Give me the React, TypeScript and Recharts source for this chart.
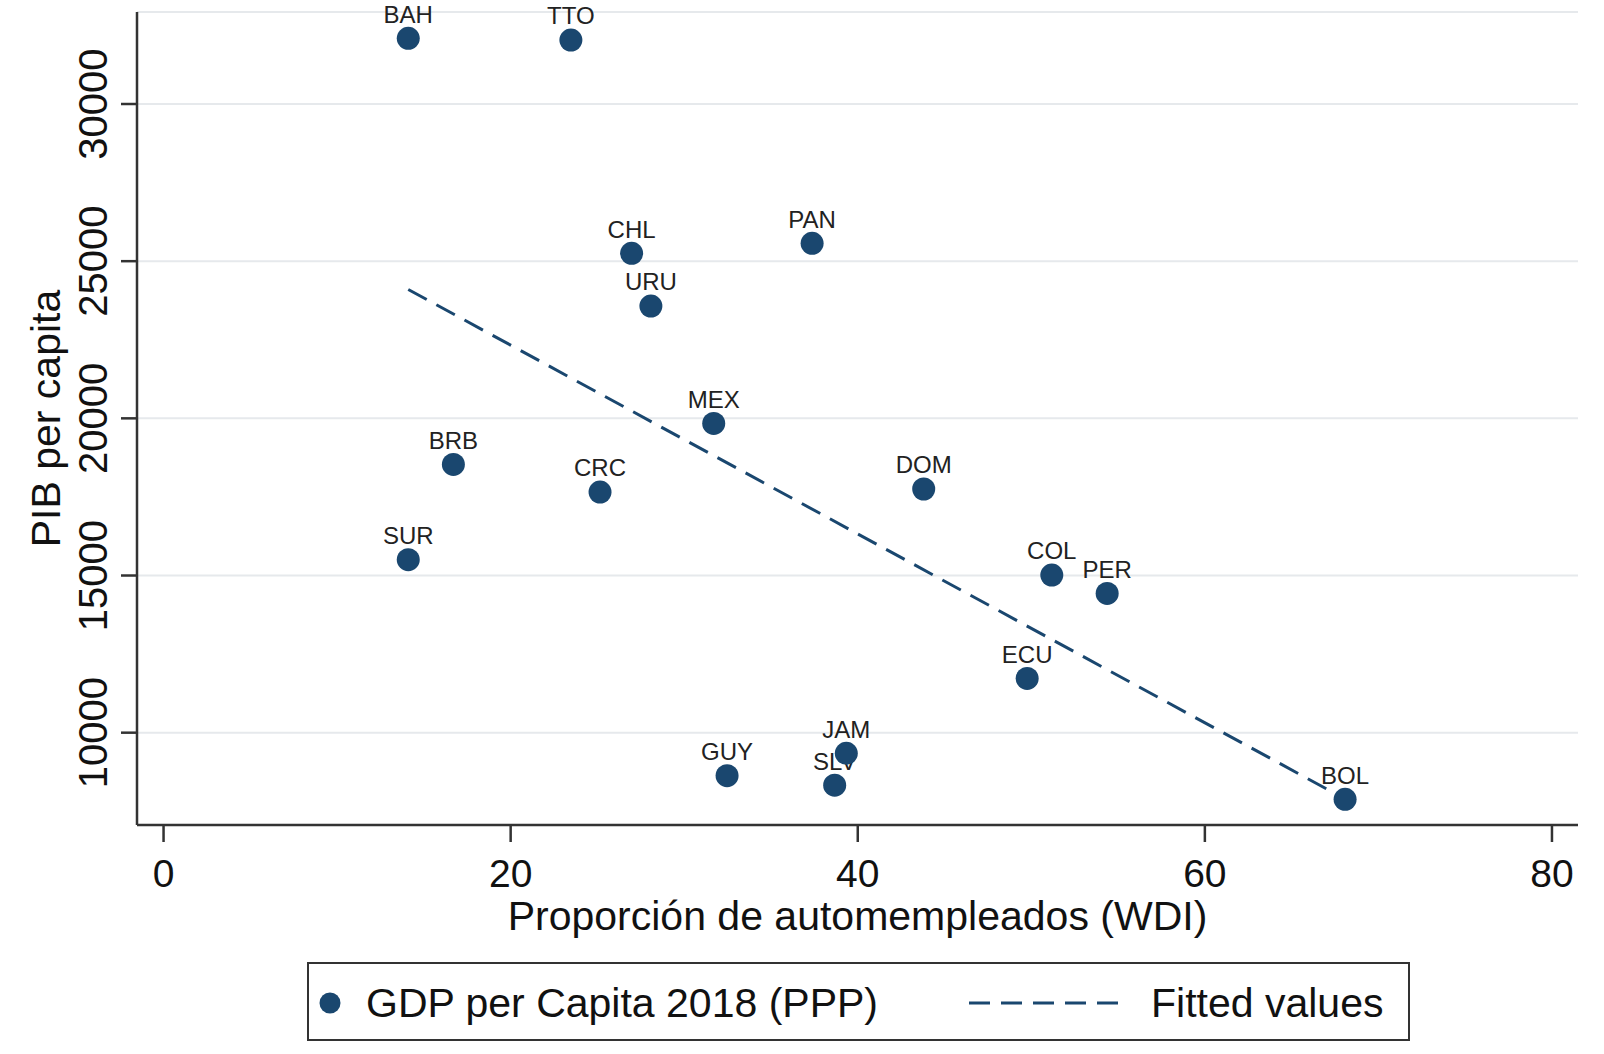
import React from 'react';
import { ScatterChart, Scatter, XAxis, YAxis, CartesianGrid, Legend } from 'recharts';

const countries = ['BAH', 'TTO', 'CHL', 'PAN', 'URU', 'MEX', 'BRB', 'CRC', 'DOM', 'SUR', 'COL', 'PER', 'ECU', 'JAM', 'GUY', 'SLV', 'BOL'];
const selfEmployed = [14.1, 23.47, 26.97, 37.37, 28.08, 31.7, 16.7, 25.15, 43.8, 14.1, 51.18, 54.37, 49.76, 39.34, 32.47, 38.67, 68.08];
const gdpPerCapita = [32090, 32036, 25250, 25570, 23573, 19837, 18534, 17655, 17752, 15505, 15016, 14430, 11726, 9345, 8632, 8330, 7881];

const fittedX = [14.1, 68.08];
const fittedY = [24100, 7890];

const xTicks = [0, 20, 40, 60, 80];
const yTicks = [10000, 15000, 20000, 25000, 30000];

const NAVY = '#1a476f';
const AXIS = '#333333';
const FONT = '"Liberation Sans", Arial, Helvetica, sans-serif';

const points = countries.map((name, i) => ({ name, x: selfEmployed[i], y: gdpPerCapita[i] }));
const fitted = fittedX.map((x, i) => ({ x, y: fittedY[i] }));

const XTick = (props: any) => {
  const { x, y, payload } = props;
  return (
    <text x={x} y={y + 43} textAnchor="middle" fontSize={39} fontFamily={FONT} fill="#111">
      {payload.value}
    </text>
  );
};

const YTick = (props: any) => {
  const { x, y, payload } = props;
  const bx = x - 12;
  return (
    <text x={bx} y={y} textAnchor="middle" fontSize={40} fontFamily={FONT} fill="#111" transform={`rotate(-90, ${bx}, ${y})`}>
      {payload.value}
    </text>
  );
};

const XTitle = (props: any) => {
  const vb = props.viewBox || {};
  const cx = vb.x + vb.width / 2;
  return (
    <text x={cx} y={930} textAnchor="middle" fontSize={41} fontFamily={FONT} fill="#111">
      Proporción de automempleados (WDI)
    </text>
  );
};

const YTitle = (props: any) => {
  const vb = props.viewBox || {};
  const cy = vb.y + vb.height / 2;
  return (
    <text x={60} y={cy} textAnchor="middle" fontSize={41} fontFamily={FONT} fill="#111" transform={`rotate(-90, 60, ${cy})`}>
      PIB per capita
    </text>
  );
};

const LabelShape = (props: any) => {
  const { cx, cy, payload } = props;
  return (
    <text x={cx} y={cy - 15.6} textAnchor="middle" fontSize={24} fontFamily={FONT} fill="#222">
      {payload.name}
    </text>
  );
};

const MarkerShape = (props: any) => {
  const { cx, cy } = props;
  return <circle cx={cx} cy={cy} r={11.5} fill={NAVY} />;
};

const EmptyShape = () => <g />;

const LegendContent = () => (
  <svg width={1103} height={79} style={{ display: 'block' }}>
    <rect x={1} y={1} width={1101} height={77} fill="#fff" stroke={AXIS} strokeWidth={2} />
    <circle cx={23} cy={41} r={10.5} fill={NAVY} />
    <text x={59} y={55} fontSize={41} fontFamily={FONT} fill="#111">GDP per Capita 2018 (PPP)</text>
    <line x1={662} y1={41} x2={817} y2={41} stroke={NAVY} strokeWidth={3} strokeDasharray="21 11" />
    <text x={844} y={55} fontSize={41} fontFamily={FONT} fill="#111">Fitted values</text>
  </svg>
);

export default function App() {
  return (
    <div style={{ position: 'absolute', left: 0, top: 0, width: 1604, height: 1054, background: '#fff' }}>
      <ScatterChart width={1604} height={1054} margin={{ top: 12, right: 26, bottom: 0, left: 0 }}>
        <CartesianGrid horizontal vertical={false} stroke="#e6e9ec" strokeWidth={2} />
        <XAxis
          type="number"
          dataKey="x"
          domain={[-1.53, 81.5]}
          ticks={xTicks}
          interval={0}
          height={229}
          tickSize={17}
          axisLine={{ stroke: AXIS, strokeWidth: 2.5 }}
          tickLine={{ stroke: AXIS, strokeWidth: 2.5 }}
          tick={<XTick />}
          label={<XTitle />}
        />
        <YAxis
          type="number"
          dataKey="y"
          domain={[7063, 32927]}
          ticks={yTicks}
          interval={0}
          width={137}
          tickSize={16}
          axisLine={{ stroke: AXIS, strokeWidth: 2.5 }}
          tickLine={{ stroke: AXIS, strokeWidth: 2.5 }}
          tick={<YTick />}
          label={<YTitle />}
        />
        <Scatter
          name="Fitted values"
          data={fitted}
          fill={NAVY}
          line={{ stroke: NAVY, strokeWidth: 3, strokeDasharray: '21 11' }}
          shape={EmptyShape}
          isAnimationActive={false}
        />
        <Scatter name="labels" data={points} fill={NAVY} shape={LabelShape} isAnimationActive={false} />
        <Scatter name="GDP per Capita 2018 (PPP)" data={points} fill={NAVY} shape={MarkerShape} isAnimationActive={false} />
        <Legend
          layout="vertical"
          align="center"
          verticalAlign="middle"
          content={LegendContent}
          wrapperStyle={{ position: 'absolute', top: 962, left: 307, width: 1103, height: 79 }}
        />
      </ScatterChart>
    </div>
  );
}
